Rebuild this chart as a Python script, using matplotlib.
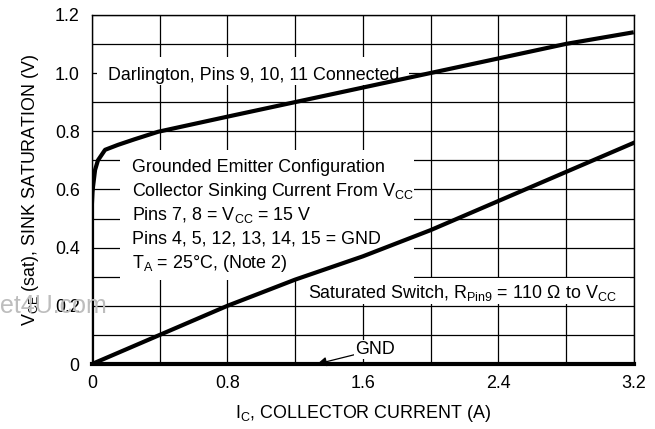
import numpy as np
import matplotlib.pyplot as plt
from matplotlib.patches import Rectangle

plt.rcParams['font.family'] = ['Liberation Sans', 'DejaVu Sans']
plt.rcParams['mathtext.fontset'] = 'custom'
plt.rcParams['mathtext.rm'] = 'Liberation Sans'
plt.rcParams['mathtext.it'] = 'Liberation Sans'
plt.rcParams['mathtext.bf'] = 'Liberation Sans'

# Darlington, pins 9, 10, 11 connected
darl_i = [0, 0, 0.003, 0.006, 0.018, 0.035, 0.077, 0.153, 0.25, 0.39, 0.8, 1.2, 1.6, 2.0, 2.4, 2.8, 3.2]
darl_v = [0, 0.55, 0.59, 0.61, 0.667, 0.70, 0.736, 0.753, 0.772, 0.798, 0.85, 0.9, 0.95, 1.0, 1.05, 1.1, 1.14]

# saturated switch
sat_i = [0, 0.4, 0.8, 1.2, 1.6, 2.0, 2.4, 2.8, 3.2]
sat_v = [0, 0.1, 0.2, 0.29, 0.37, 0.46, 0.56, 0.66, 0.76]

# GND curve
gnd_i = [0, 3.2]
gnd_v = [0, 0]

xticks = [0, 0.8, 1.6, 2.4, 3.2]
xlabels = ['0', '0.8', '1.6', '2.4', '3.2']
yticks = [0, 0.2, 0.4, 0.6, 0.8, 1.0, 1.2]
ylabels = ['0', '0.2', '0.4', '0.6', '0.8', '1.0', '1.2']

fs = 12.9
fig = plt.figure(figsize=(6.55, 4.29), dpi=100)
ax = fig.add_axes([0.1405, 0.1515, 0.827, 0.814])

ax.set_xlim(0, 3.2)
ax.set_ylim(0, 1.2)
ax.set_xticks(xticks)
ax.set_xticklabels(xlabels, fontsize=fs)
ax.set_yticks(yticks)
ax.set_yticklabels(ylabels, fontsize=fs)
ax.set_xticks(np.arange(0, 3.21, 0.4), minor=True)
ax.set_yticks(np.arange(0, 1.21, 0.1), minor=True)
ax.tick_params(which='both', length=0)
ax.tick_params(axis='x', pad=8)
ax.tick_params(axis='y', pad=9)
ax.grid(True, which='both', color='black', linewidth=0.9, zorder=1)
ax.set_axisbelow(True)
for s in ax.spines.values():
    s.set_linewidth(1.0)

# white areas behind the notes
for (x0, y0, w, h) in [(0.03, 0.96, 1.84, 0.096), (0.165, 0.29, 1.74, 0.446), (1.25, 0.205, 1.93, 0.09)]:
    ax.add_patch(Rectangle((x0, y0), w, h, facecolor='white', edgecolor='none', zorder=1.5))

ax.plot(darl_i, darl_v, color='black', linewidth=3.0, zorder=3, solid_capstyle='butt')
ax.plot(sat_i, sat_v, color='black', linewidth=3.0, zorder=3)
ax.plot(gnd_i, gnd_v, color='black', linewidth=3.0, zorder=3, clip_on=False)

ax.text(0.094, 0.977, 'Darlington, Pins 9, 10, 11 Connected', fontsize=fs, va='baseline', zorder=4)
lines = ['Grounded Emitter Configuration',
         r'Collector Sinking Current From V$_{\mathrm{CC}}$',
         r'Pins 7, 8 = V$_{\mathrm{CC}}$ = 15 V',
         'Pins 4, 5, 12, 13, 14, 15 = GND',
         r'T$_{\mathrm{A}}$ = 25°C, (Note 2)']
for k, t in enumerate(lines):
    ax.text(0.236, 0.661 - k * 0.0825, t, fontsize=fs, va='baseline', zorder=4)
ax.text(1.275, 0.227, r'Saturated Switch, R$_{\mathrm{Pin9}}$ = 110 Ω to V$_{\mathrm{CC}}$',
        fontsize=fs, va='baseline', zorder=4)
ax.annotate('GND', xy=(1.33, 0.0), xytext=(1.553, 0.034), fontsize=fs, va='baseline',
            arrowprops=dict(arrowstyle='-|>', color='black', lw=0.9, shrinkA=0, shrinkB=0,
                            mutation_scale=14),
            bbox=dict(facecolor='white', edgecolor='none', pad=0.5), zorder=4)

ax.set_xlabel(r'I$_{\mathrm{C}}$, COLLECTOR CURRENT (A)', fontsize=fs, labelpad=8)
ax.set_ylabel(r'V$_{\mathrm{CE}}$ (sat), SINK SATURATION (V)', fontsize=fs, labelpad=10)

# faint watermark left over in the scan
fig.text(0.0, 1 - 313 / 429, 'et4U.com', fontsize=18, color='#bdbdbd', va='baseline', zorder=0)

fig.savefig('out.png', dpi=100)
